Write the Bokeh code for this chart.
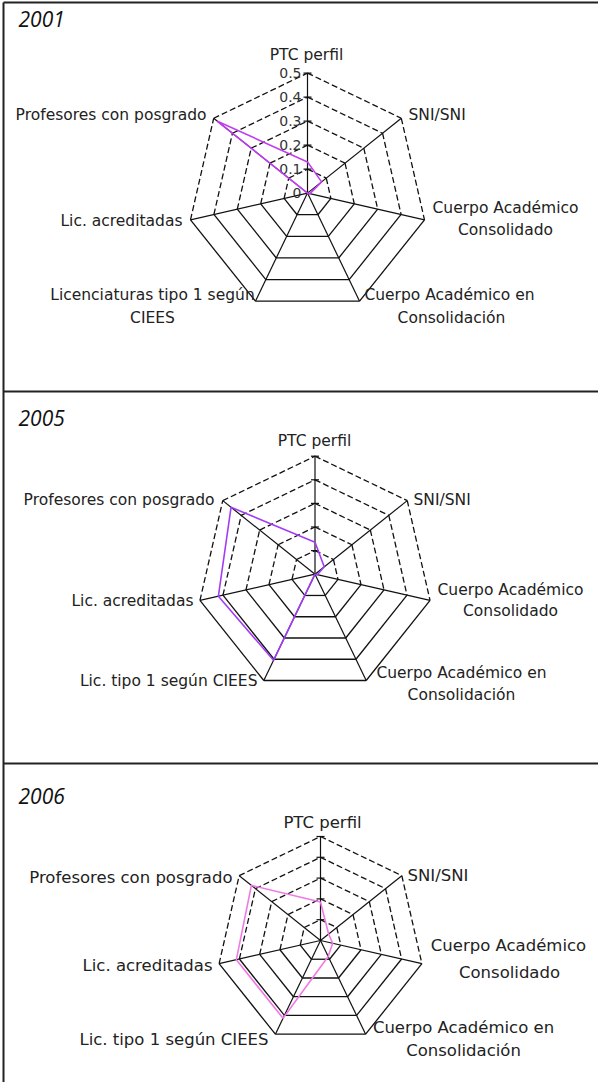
import numpy as np
from bokeh.plotting import figure
from bokeh.models import Range1d
from bokeh.core.properties import value
from bokeh.embed import file_html
from bokeh.resources import INLINE

# ---------------- data ----------------
years = ["2001", "2005", "2006"]
categories = ["PTC perfil", "SNI/SNI", "Cuerpo Académico Consolidado",
              "Cuerpo Académico en Consolidación", "Licenciaturas tipo 1 según CIEES",
              "Lic. acreditadas", "Profesores con posgrado"]
values_2001 = [0.13, 0.075, 0.01, 0.0, 0.0, 0.0, 0.48]
values_2005 = [0.27, 0.10, 0.02, 0.0, 0.81, 0.84, 0.91]
values_2006 = [0.37, 0.10, 0.12, 0.17, 0.83, 0.83, 0.85]
scale_max = [0.5, 1.0, 1.0]
ring_values_2001 = [0.1, 0.2, 0.3, 0.4, 0.5]
ring_values_other = [0.2, 0.4, 0.6, 0.8, 1.0]
tick_labels_2001 = ["0", "0.1", "0.2", "0.3", "0.4", "0.5"]

labels_2001 = [["PTC perfil"], ["SNI/SNI"], ["Cuerpo Académico", "Consolidado"],
               ["Cuerpo Académico en", "Consolidación"],
               ["Licenciaturas tipo 1 según", "CIEES"], ["Lic. acreditadas"],
               ["Profesores con posgrado"]]
labels_2005 = [["PTC perfil"], ["SNI/SNI"], ["Cuerpo Académico", "Consolidado"],
               ["Cuerpo Académico en", "Consolidación"],
               ["Lic. tipo 1 según CIEES"], ["Lic. acreditadas"],
               ["Profesores con posgrado"]]
labels_2006 = labels_2005

# ---------------- layout ----------------
panels = [
    dict(year_y=26, cx=315, cy=200.6, R=120, color="#c23cf2", fs=15.5, values=values_2001,
         rings=ring_values_2001, labels=labels_2001,
         pos=[[(314, 62, "center")], [(416, 122, "left")],
              [(513, 215, "center"), (513, 237, "center")],
              [(457, 302, "center"), (459, 325, "center")],
              [(160, 302, "center"), (160, 325, "center")],
              [(190, 228, "right")], [(214, 122, "right")]]),
    dict(year_y=425, cx=322.5, cy=581.7, R=118, color="#a23cf5", fs=15.5, values=values_2005,
         rings=ring_values_other, labels=labels_2005,
         pos=[[(322, 448, "center")], [(421, 507, "left")],
              [(518, 597, "center"), (518, 618, "center")],
              [(469, 680, "center"), (469, 702, "center")],
              [(265, 688, "right")], [(201, 608, "right")], [(222, 507, "right")]]),
    dict(year_y=803, cx=328, cy=948, R=104, color="#f07ae4", fs=16.5, values=values_2006,
         rings=ring_values_other, labels=labels_2006,
         pos=[[(330, 830, "center")], [(415, 883, "left")],
              [(516, 953, "center"), (517, 980, "center")],
              [(471, 1035, "center"), (471, 1058, "center")],
              [(276, 1047, "right")], [(220, 973, "right")], [(240, 885, "right")]]),
]

p = figure(width=598, height=1082, x_range=Range1d(8, 606), y_range=Range1d(1090, 8),
           output_backend="svg", toolbar_location=None, min_border=0)
p.axis.visible = False
p.grid.visible = False
p.outline_line_color = None
p.background_fill_color = "white"

n = len(categories)
theta = np.arange(n) * 2 * np.pi / n
FONT = value("DejaVu Sans")

# frame
p.line([11, 11], [10, 1090], line_color="#222222", line_width=2)
p.line([11, 606], [10, 10], line_color="#222222", line_width=2)
for yy in (399, 771):
    p.line([11, 606], [yy, yy], line_color="#222222", line_width=2)

for k, pn in enumerate(panels):
    cx, cy, R, mx = pn["cx"], pn["cy"], pn["R"], scale_max[k]
    vx = cx + R * np.sin(theta)
    vy = cy - R * np.cos(theta)
    # rings
    for rv in pn["rings"]:
        rr = R * rv / mx
        px = cx + rr * np.sin(theta)
        py = cy - rr * np.cos(theta)
        for i in range(n):
            j = (i + 1) % n
            lower = i in (2, 3, 4)
            p.line([px[i], px[j]], [py[i], py[j]], line_color="#111111", line_width=1.3,
                   line_dash="solid" if lower else "6 3")
    # spokes
    for i in range(n):
        p.line([cx, vx[i]], [cy, vy[i]], line_color="#111111", line_width=1.2)
    # ticks on top spoke
    for rv in pn["rings"]:
        rr = R * rv / mx
        p.line([cx - 4, cx + 4], [cy - rr, cy - rr], line_color="#111111", line_width=1.2)
    if k == 0:
        tv = [0.0] + list(pn["rings"])
        p.text(x=[cx - 6] * len(tv), y=[cy - R * t / mx for t in tv], text=tick_labels_2001,
               text_font=FONT, text_font_size="14px", text_align="right",
               text_baseline="middle", text_color="#333333")
    # data polygon
    vals = np.array(pn["values"])
    rr = R * vals / mx
    dx = cx + rr * np.sin(theta)
    dy = cy - rr * np.cos(theta)
    p.line(list(dx) + [dx[0]], list(dy) + [dy[0]], line_color=pn["color"], line_width=1.6)
    # category labels
    for lines, poss in zip(pn["labels"], pn["pos"]):
        for txt, (tx, ty, al) in zip(lines, poss):
            p.text(x=[tx], y=[ty], text=[txt], text_font=FONT,
                   text_font_size=f"{pn['fs']}px", text_align=al,
                   text_baseline="middle", text_color="#222222")
    # year
    p.text(x=[26], y=[pn["year_y"]], text=[years[k]], text_font=value("Open Sans"),
           text_font_style="italic", text_font_size="21px", text_align="left",
           text_baseline="middle", text_color="#111111")

open("out.html", "w").write(file_html(p, INLINE))
